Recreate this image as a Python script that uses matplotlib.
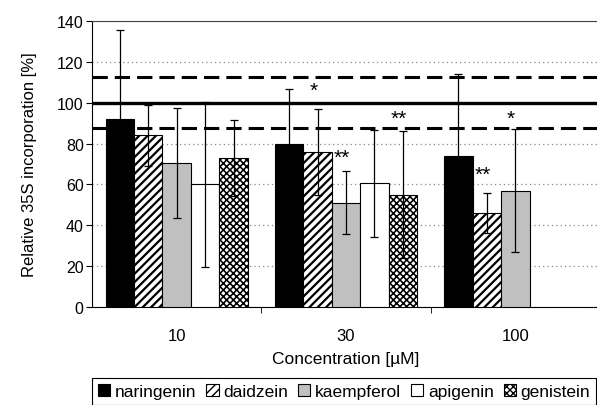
import matplotlib
matplotlib.use("Agg")
import matplotlib.pyplot as plt
import numpy as np

plt.rcParams['font.family'] = ['Liberation Sans', 'DejaVu Sans']

categories = ['10', '30', '100']
compounds = ['naringenin', 'daidzein', 'kaempferol', 'apigenin', 'genistein']
means = {
    'naringenin': [92, 80, 74],
    'daidzein':   [84, 76, 46],
    'kaempferol': [70.5, 51, 57],
    'apigenin':   [60, 60.5, np.nan],
    'genistein':  [73, 55, np.nan],
}
errors = {
    'naringenin': [43.5, 26.5, 40],
    'daidzein':   [15, 21, 10],
    'kaempferol': [27, 15.5, 30],
    'apigenin':   [40.5, 26, np.nan],
    'genistein':  [18.5, 31, np.nan],
}
# significance marks: (category index, compound, label, y position)
stars = [
    (1, 'daidzein', '*', 106),
    (1, 'kaempferol', '**', 73.5),
    (1, 'genistein', '**', 92.5),
    (2, 'daidzein', '**', 65),
    (2, 'kaempferol', '*', 92.5),
]
ref_mean = 100
ref_band = [87.5, 112.5]

facecolors = {'naringenin': 'black', 'daidzein': 'white', 'kaempferol': '#c0c0c0',
              'apigenin': 'white', 'genistein': 'white'}
hatches = {'naringenin': None, 'daidzein': '////', 'kaempferol': None,
           'apigenin': None, 'genistein': 'xxxxx'}
hatch_lw = {'naringenin': 1.0, 'daidzein': 1.6, 'kaempferol': 1.0,
            'apigenin': 1.0, 'genistein': 1.15}

W, H = 597, 406
fig = plt.figure(figsize=(W / 100, H / 100), dpi=100)
ax = fig.add_axes([92 / W, 1 - 308 / H, (600 - 92) / W, (308 - 22) / H])

x = np.arange(len(categories))
bw = 0.168
for i, c in enumerate(compounds):
    pos = x + (i - 2) * bw
    vals = np.array(means[c], dtype=float)
    errs = np.array(errors[c], dtype=float)
    with plt.rc_context({'hatch.linewidth': hatch_lw[c], 'hatch.color': '#222222'}):
        ax.bar(pos, vals, width=bw, color=facecolors[c], edgecolor='black',
               linewidth=0.8, hatch=hatches[c], label=c, zorder=3)
    ax.errorbar(pos, vals, yerr=errs, fmt='none', ecolor='black',
                elinewidth=0.9, capsize=3, capthick=0.9, zorder=4)

for ci, comp, lab, yv in stars:
    xp = ci + (compounds.index(comp) - 2) * bw - 0.025
    ax.text(xp, yv, lab, ha='center', va='center', fontsize=15, zorder=5)

ax.axhline(ref_mean, color='black', lw=2.4, zorder=2)
for yb in ref_band:
    ax.axhline(yb, color='black', lw=2.2, dashes=(5, 2.3), zorder=2)

ax.set_ylim(0, 140)
ax.set_xlim(-0.5, 2.5)
ax.set_yticks(np.arange(0, 141, 20))
ax.yaxis.grid(True, linestyle=(0, (1, 2.5)), color='#888888', lw=0.9, zorder=0)
ax.set_xticks(x)
ax.set_xticklabels(categories, fontsize=12)
ax.set_xticks([0.5, 1.5], minor=True)
ax.tick_params(axis='x', which='major', length=0, pad=15)
ax.tick_params(axis='x', which='minor', length=4, direction='out')
ax.tick_params(axis='y', labelsize=11.5, length=4, direction='out', pad=2)
ax.spines['right'].set_visible(False)
ax.spines['top'].set_color('#444444')
ax.set_xlabel('Concentration [\u00b5M]', fontsize=12.5, labelpad=6)
ax.set_ylabel('Relative 35S incorporation [%]', fontsize=12, labelpad=14)

leg = fig.legend(loc='upper left', bbox_to_anchor=(92 / W, 1 - 379 / H), ncol=5,
                 fontsize=12.5, handlelength=0.7, handleheight=0.7,
                 handletextpad=0.25, columnspacing=0.6, borderaxespad=0,
                 borderpad=0.35, fancybox=False, edgecolor='black', framealpha=1)
leg.get_frame().set_linewidth(0.8)

fig.savefig('out.png', dpi=100)
